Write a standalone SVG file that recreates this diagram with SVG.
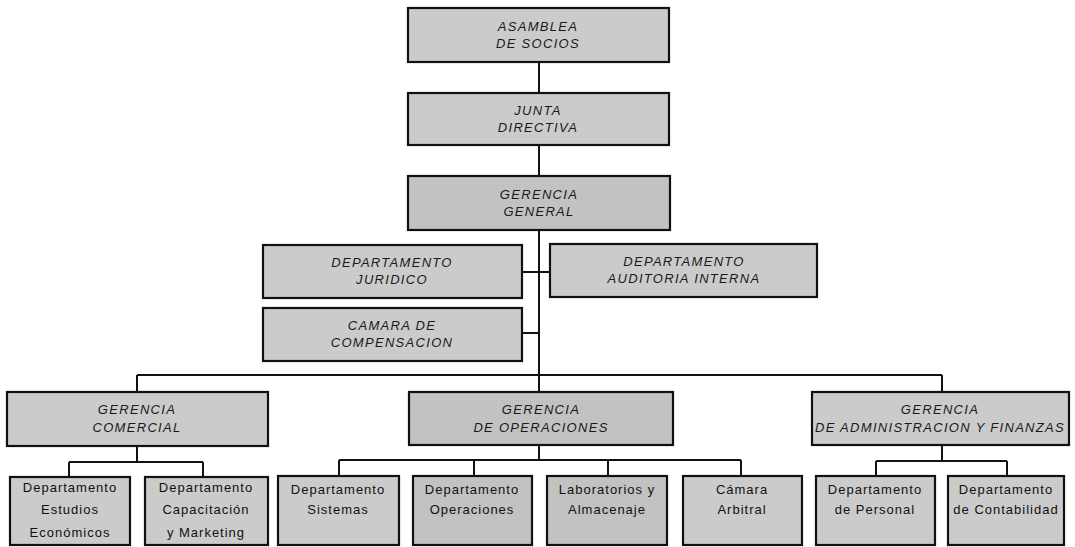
<svg xmlns="http://www.w3.org/2000/svg" width="1075" height="547" viewBox="0 0 1075 547">
<style>
.box{fill:#cbcbcb;stroke:#111;stroke-width:2.2}
.dk{fill:#c2c2c2}
.t{font-family:"Liberation Sans",Arial,sans-serif;font-size:13px;font-style:italic;letter-spacing:1.3px;fill:#1a1a1a;text-anchor:middle}
.b{font-family:"Liberation Sans",Arial,sans-serif;font-size:13px;letter-spacing:1px;fill:#111;text-anchor:middle}
.c{fill:none;stroke:#111;stroke-width:2}
</style>
<rect width="1075" height="547" fill="#fff"/>
<g id="connectors">
<path class="c" d="M539 62V375M522 272H550M522 333H539M137 375H942M137 375V392M539 375V392M942 375V392"/>
<path class="c" d="M137 446V462M69 462H203M69 462V477M203 462V477"/>
<path class="c" d="M539 445V460M339 460H741M339 460V476M474 460V476M608 460V476M741 460V476"/>
<path class="c" d="M942 445V461M876 461H1007M876 461V476M1007 461V476"/>
</g>
<g id="asamblea"><rect class="box" x="408" y="8" width="261" height="54"/><text class="t" x="538" y="31">ASAMBLEA</text><text class="t" x="538" y="48">DE SOCIOS</text></g>
<g id="junta"><rect class="box" x="408" y="93" width="261" height="52"/><text class="t" x="538" y="115">JUNTA</text><text class="t" x="538" y="132">DIRECTIVA</text></g>
<g id="gerencia-general"><rect class="box dk" x="408" y="176" width="262" height="54"/><text class="t" x="539" y="199">GERENCIA</text><text class="t" x="539" y="216">GENERAL</text></g>
<g id="juridico"><rect class="box" x="263" y="245" width="259" height="53"/><text class="t" x="392" y="267">DEPARTAMENTO</text><text class="t" x="392" y="284">JURIDICO</text></g>
<g id="auditoria"><rect class="box" x="550" y="244" width="267" height="53"/><text class="t" x="684" y="266">DEPARTAMENTO</text><text class="t" x="684" y="283">AUDITORIA INTERNA</text></g>
<g id="camara-compensacion"><rect class="box" x="263" y="308" width="259" height="53"/><text class="t" x="392" y="330">CAMARA DE</text><text class="t" x="392" y="347">COMPENSACION</text></g>
<g id="gerencia-comercial"><rect class="box" x="7" y="392" width="261" height="54"/><text class="t" x="137" y="414">GERENCIA</text><text class="t" x="137" y="432">COMERCIAL</text></g>
<g id="gerencia-operaciones"><rect class="box dk" x="409" y="392" width="264" height="53"/><text class="t" x="541" y="414">GERENCIA</text><text class="t" x="541" y="432">DE OPERACIONES</text></g>
<g id="gerencia-administracion"><rect class="box" x="812" y="392" width="257" height="53"/><text class="t" x="940" y="414">GERENCIA</text><text class="t" x="940" y="432" textLength="250" lengthAdjust="spacing">DE ADMINISTRACION Y FINANZAS</text></g>
<g id="estudios"><rect class="box" x="10" y="477" width="120" height="68"/><text class="b" x="70" y="492">Departamento</text><text class="b" x="70" y="514">Estudios</text><text class="b" x="70" y="537">Económicos</text></g>
<g id="capacitacion"><rect class="box" x="145" y="477" width="123" height="68"/><text class="b" x="206" y="492">Departamento</text><text class="b" x="206" y="514">Capacitación</text><text class="b" x="206" y="537">y Marketing</text></g>
<g id="sistemas"><rect class="box" x="278" y="476" width="121" height="69"/><text class="b" x="338" y="494">Departamento</text><text class="b" x="338" y="514">Sistemas</text></g>
<g id="operaciones"><rect class="box dk" x="413" y="476" width="119" height="69"/><text class="b" x="472" y="494">Departamento</text><text class="b" x="472" y="514">Operaciones</text></g>
<g id="laboratorios"><rect class="box dk" x="547" y="476" width="120" height="69"/><text class="b" x="607" y="494">Laboratorios y</text><text class="b" x="607" y="514">Almacenaje</text></g>
<g id="camara-arbitral"><rect class="box" x="683" y="476" width="119" height="69"/><text class="b" x="742" y="494">Cámara</text><text class="b" x="742" y="514">Arbitral</text></g>
<g id="personal"><rect class="box" x="816" y="476" width="119" height="69"/><text class="b" x="875" y="494">Departamento</text><text class="b" x="875" y="514">de Personal</text></g>
<g id="contabilidad"><rect class="box" x="948" y="476" width="116" height="69"/><text class="b" x="1006" y="494">Departamento</text><text class="b" x="1006" y="514">de Contabilidad</text></g>
</svg>
